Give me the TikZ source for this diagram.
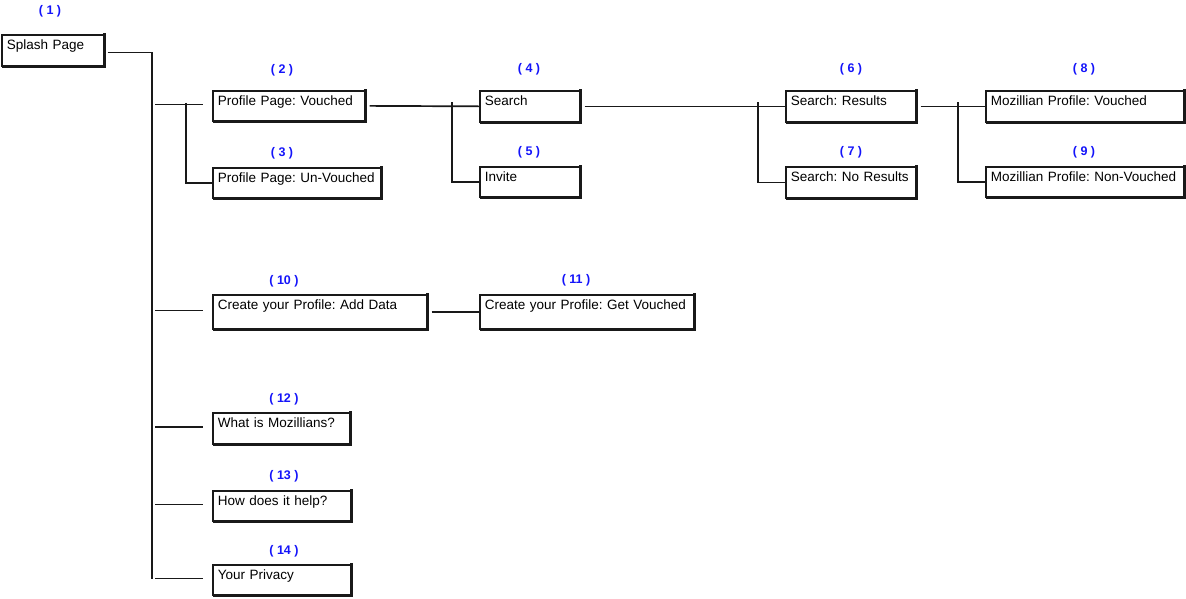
\documentclass[tikz,border=0pt]{standalone}
\usepackage{fontspec}
\setmainfont{Liberation Sans}
\frenchspacing
\definecolor{ink}{RGB}{25,25,25}
\definecolor{numblue}{RGB}{20,20,250}
\begin{document}
\begin{tikzpicture}[x=1pt,y=-1pt,
  box/.style={draw=ink, line width=1.7pt, anchor=north west, inner xsep=5pt, inner ysep=4pt,
    align=left, text height=11pt, font=\fontsize{13.5}{15}\selectfont},
  num/.style={text=numblue, inner sep=0pt, font=\bfseries\fontsize{12.5}{15}\selectfont},
  conn/.style={draw=ink, line width=1.7pt},
  shade/.style={draw=ink, line width=2.8pt}]
\useasboundingbox (0,0) rectangle (1186,598);

% boxes
\node[box, text width=92pt,  text depth=12pt] (b1)  at (1,34)    {Splash Page};
\node[box, text width=142pt, text depth=11pt] (b2)  at (212,90)  {Profile Page: Vouched};
\node[box, text width=158pt, text depth=11pt] (b3)  at (212,167) {Profile Page: Un-Vouched};
\node[box, text width=90pt,  text depth=12pt] (b4)  at (479,90)  {Search};
\node[box, text width=90pt,  text depth=11pt] (b5)  at (479,166) {Invite};
\node[box, text width=120pt, text depth=12pt] (b6)  at (785,90)  {Search: Results};
\node[box, text width=120pt, text depth=12pt] (b7)  at (785,166) {Search: No Results};
\node[box, text width=188pt, text depth=12pt] (b8)  at (985,90)  {Mozillian Profile: Vouched};
\node[box, text width=188pt, text depth=11pt] (b9)  at (985,166) {Mozillian Profile: Non-Vouched};
\node[box, text width=204pt, text depth=15pt] (b10) at (212,294) {Create your Profile: Add Data};
\node[box, text width=204pt, text depth=15pt] (b11) at (479,294) {Create your Profile: Get Vouched};
\node[box, text width=127pt, text depth=12pt] (b12) at (212,412) {What is Mozillians?};
\node[box, text width=128pt, text depth=11pt] (b13) at (212,490) {How does it help?};
\node[box, text width=128pt, text depth=11pt] (b14) at (212,564) {Your Privacy};

% heavier right/bottom edges
\foreach \n in {b1,b2,b3,b4,b5,b6,b7,b8,b9,b10,b11,b12,b13,b14}
  \draw[shade] ([yshift=1pt]\n.north east) -- (\n.south east) -- ([xshift=1pt]\n.south west);

% numbers
\node[num] (n1)  at (50,11)   {( 1 )};
\node[num] (n2)  at (282,70)  {( 2 )};
\node[num] (n3)  at (282,153) {( 3 )};
\node[num] (n4)  at (529,69)  {( 4 )};
\node[num] (n5)  at (529,152) {( 5 )};
\node[num] (n6)  at (851,69)  {( 6 )};
\node[num] (n7)  at (851,152) {( 7 )};
\node[num] (n8)  at (1084,69) {( 8 )};
\node[num] (n9)  at (1084,152){( 9 )};
\node[num] (n10) at (284,281) {( 10 )};
\node[num] (n11) at (576,280) {( 11 )};
\node[num] (n12) at (284,399) {( 12 )};
\node[num] (n13) at (284,476) {( 13 )};
\node[num] (n14) at (284,551) {( 14 )};

% trunk and branch columns
\coordinate (t)  at (152,0);
\coordinate (s2) at (186,0);
\coordinate (s4) at (452,0);
\coordinate (s6) at (758,0);
\coordinate (s8) at (958,0);

\draw[conn, shorten <=3pt] ([yshift=-2pt]b1.east) -- ([yshift=-2pt]b1.east -| t) -- ([yshift=1pt]b14.west -| t);
\foreach \n in {b2,b10,b12,b13,b14}
  \draw[conn, shorten <=3pt, shorten >=9pt] ([yshift=1.5pt]\n.west -| t) -- ([yshift=1.5pt]\n.west);

\draw[conn] ([yshift=3pt]b2.west -| s2) |- (b3.west);

\draw[conn, shorten <=4pt] (b2.east) -- (b4.west);
\draw[conn] ([yshift=4pt]b4.west -| s4) |- (b5.west);

\draw[conn, shorten <=4pt] (b4.east) -- (b6.west);
\draw[conn] ([yshift=4pt]b6.west -| s6) |- (b7.west);

\draw[conn, shorten <=4pt] (b6.east) -- (b8.west);
\draw[conn] ([yshift=4pt]b8.west -| s8) |- (b9.west);

\draw[conn, shorten <=4pt] (b10.east) -- (b11.west);
\end{tikzpicture}
\end{document}
